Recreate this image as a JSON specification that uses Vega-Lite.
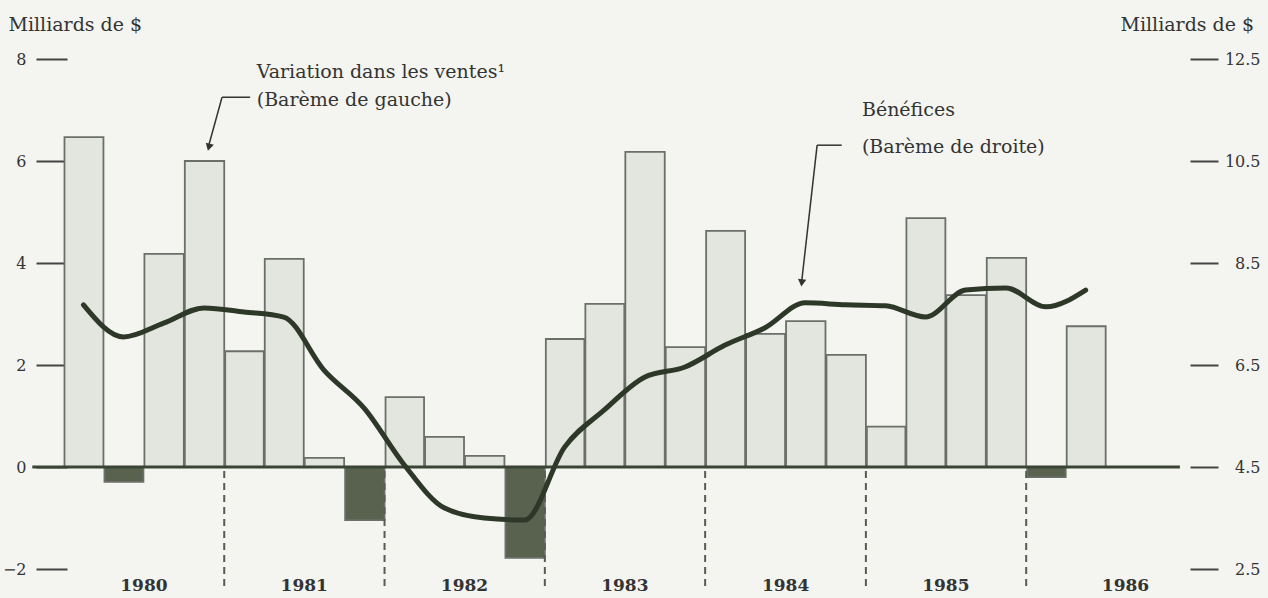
{
  "$schema": "https://vega.github.io/schema/vega-lite/v6.json",
  "width": 1123,
  "height": 510,
  "autosize": "none",
  "padding": {"left": 67, "top": 59, "right": 78, "bottom": 29},
  "background": "#f4f5f1",
  "config": {"view": {"stroke": null}, "font": "DejaVu Serif"},
  "datasets": {
    "q": [
      {"date": "1980-01-01", "ventes": 6.47, "benefices": 7.68},
      {"date": "1980-04-01", "ventes": -0.29, "benefices": 7.05},
      {"date": "1980-07-01", "ventes": 4.18, "benefices": 7.32},
      {"date": "1980-10-01", "ventes": 6.0, "benefices": 7.62},
      {"date": "1981-01-01", "ventes": 2.27, "benefices": 7.54},
      {"date": "1981-04-01", "ventes": 4.08, "benefices": 7.44},
      {"date": "1981-07-01", "ventes": 0.18, "benefices": 6.4},
      {"date": "1981-10-01", "ventes": -1.04, "benefices": 5.65},
      {"date": "1982-01-01", "ventes": 1.37, "benefices": 4.54},
      {"date": "1982-04-01", "ventes": 0.59, "benefices": 3.7},
      {"date": "1982-07-01", "ventes": 0.22, "benefices": 3.5},
      {"date": "1982-10-01", "ventes": -1.78, "benefices": 3.46},
      {"date": "1983-01-01", "ventes": 2.51, "benefices": 4.89},
      {"date": "1983-04-01", "ventes": 3.2, "benefices": 5.62},
      {"date": "1983-07-01", "ventes": 6.18, "benefices": 6.26},
      {"date": "1983-10-01", "ventes": 2.35, "benefices": 6.46},
      {"date": "1984-01-01", "ventes": 4.63, "benefices": 6.89},
      {"date": "1984-04-01", "ventes": 2.61, "benefices": 7.23},
      {"date": "1984-07-01", "ventes": 2.86, "benefices": 7.72},
      {"date": "1984-10-01", "ventes": 2.2, "benefices": 7.68},
      {"date": "1985-01-01", "ventes": 0.79, "benefices": 7.66},
      {"date": "1985-04-01", "ventes": 4.88, "benefices": 7.44},
      {"date": "1985-07-01", "ventes": 3.37, "benefices": 7.97},
      {"date": "1985-10-01", "ventes": 4.1, "benefices": 8.01},
      {"date": "1986-01-01", "ventes": -0.2, "benefices": 7.64},
      {"date": "1986-04-01", "ventes": 2.76, "benefices": 7.97}
    ],
    "div": [
      {"date": "1981-01-01"},
      {"date": "1982-01-01"},
      {"date": "1983-01-01"},
      {"date": "1984-01-01"},
      {"date": "1985-01-01"},
      {"date": "1986-01-01"}
    ],
    "one": [{"k": 1}]
  },
  "layer": [
    {
      "layer": [
        {
          "data": {"name": "q"},
          "mark": {"type": "bar", "stroke": "#6b6f69", "strokeWidth": 1.8},
          "encoding": {
            "x": {
              "field": "date",
              "timeUnit": "utcyearquarter",
              "type": "temporal",
              "scale": {
                "type": "utc",
                "domain": [
                  {"year": 1980, "month": 1, "date": 9, "utc": true},
                  {"year": 1987, "month": 1, "date": 9, "utc": true}
                ]
              },
              "axis": {
                "values": [
                  {"year": 1980, "month": 7, "date": 1, "utc": true},
                  {"year": 1981, "month": 7, "date": 1, "utc": true},
                  {"year": 1982, "month": 7, "date": 1, "utc": true},
                  {"year": 1983, "month": 7, "date": 1, "utc": true},
                  {"year": 1984, "month": 7, "date": 1, "utc": true},
                  {"year": 1985, "month": 7, "date": 1, "utc": true},
                  {"year": 1986, "month": 8, "date": 14, "utc": true}
                ],
                "format": "%Y",
                "ticks": false,
                "domain": false,
                "grid": false,
                "title": null,
                "labelFont": "DejaVu Serif",
                "labelFontWeight": "bold",
                "labelFontSize": 17,
                "labelColor": "#333333",
                "labelPadding": 8,
                "labelOverlap": false,
                "labelFlush": false
              }
            },
            "y": {
              "field": "ventes",
              "type": "quantitative",
              "scale": {"domain": [-2, 8], "nice": false},
              "axis": {
                "orient": "left",
                "values": [-2, 0, 2, 4, 6, 8],
                "format": "d",
                "title": "Milliards de $",
                "titleAngle": 0,
                "titleAlign": "left",
                "titleBaseline": "middle",
                "titleX": -59,
                "titleY": -35,
                "titleFont": "DejaVu Serif",
                "titleFontSize": 19,
                "titleFontWeight": "normal",
                "titleColor": "#333333",
                "domain": false,
                "grid": false,
                "tickSize": 31,
                "tickWidth": 2,
                "tickColor": "#444444",
                "labelPadding": 10,
                "labelFont": "DejaVu Serif",
                "labelFontSize": 16,
                "labelColor": "#333333"
              }
            },
            "fill": {
              "condition": {"test": "datum.ventes < 0", "value": "#58624f"},
              "value": "#e3e6df"
            }
          }
        },
        {
          "data": {"name": "one"},
          "mark": {"type": "rule", "color": "#3a4434", "strokeWidth": 3},
          "encoding": {
            "x": {"datum": {"year": 1979, "month": 10, "date": 22, "utc": true}, "type": "temporal"},
            "x2": {"datum": {"year": 1986, "month": 12, "date": 17, "utc": true}},
            "y": {"datum": 0, "type": "quantitative"}
          }
        },
        {
          "data": {"name": "div"},
          "mark": {"type": "rule", "color": "#555c51", "strokeWidth": 2, "strokeDash": [7, 5]},
          "encoding": {
            "x": {"field": "date", "type": "temporal"},
            "y": {"datum": -0.08, "type": "quantitative"},
            "y2": {"datum": -2.4}
          }
        },
        {
          "data": {"name": "one"},
          "mark": {"type": "text", "text": "Variation dans les ventes¹", "align": "left", "baseline": "middle", "fontSize": 19, "color": "#333333", "font": "DejaVu Serif"},
          "encoding": {
            "x": {"datum": {"year": 1981, "month": 3, "date": 16, "utc": true}, "type": "temporal"},
            "y": {"datum": 7.75, "type": "quantitative"}
          }
        },
        {
          "data": {"name": "one"},
          "mark": {"type": "text", "text": "(Barème de gauche)", "align": "left", "baseline": "middle", "fontSize": 19, "color": "#333333", "font": "DejaVu Serif"},
          "encoding": {
            "x": {"datum": {"year": 1981, "month": 3, "date": 16, "utc": true}, "type": "temporal"},
            "y": {"datum": 7.2, "type": "quantitative"}
          }
        },
        {
          "data": {"name": "one"},
          "mark": {"type": "text", "text": "Bénéfices", "align": "left", "baseline": "middle", "fontSize": 19, "color": "#333333", "font": "DejaVu Serif"},
          "encoding": {
            "x": {"datum": {"year": 1984, "month": 12, "date": 23, "utc": true}, "type": "temporal"},
            "y": {"datum": 7.0, "type": "quantitative"}
          }
        },
        {
          "data": {"name": "one"},
          "mark": {"type": "text", "text": "(Barème de droite)", "align": "left", "baseline": "middle", "fontSize": 19, "color": "#333333", "font": "DejaVu Serif"},
          "encoding": {
            "x": {"datum": {"year": 1984, "month": 12, "date": 23, "utc": true}, "type": "temporal"},
            "y": {"datum": 6.27, "type": "quantitative"}
          }
        },
        {
          "data": {"name": "one"},
          "mark": {"type": "rule", "color": "#333333", "strokeWidth": 1.5},
          "encoding": {
            "x": {"datum": {"year": 1980, "month": 12, "date": 27, "utc": true}, "type": "temporal"},
            "x2": {"datum": {"year": 1981, "month": 3, "date": 1, "utc": true}},
            "y": {"datum": 7.25, "type": "quantitative"},
            "y2": {"datum": 7.25}
          }
        },
        {
          "data": {"name": "one"},
          "mark": {"type": "rule", "color": "#333333", "strokeWidth": 1.5},
          "encoding": {
            "x": {"datum": {"year": 1980, "month": 12, "date": 27, "utc": true}, "type": "temporal"},
            "x2": {"datum": {"year": 1980, "month": 11, "date": 25, "utc": true}},
            "y": {"datum": 7.25, "type": "quantitative"},
            "y2": {"datum": 6.25}
          }
        },
        {
          "data": {"name": "one"},
          "mark": {"type": "point", "shape": "triangle-down", "filled": true, "size": 70, "angle": 15, "color": "#333333", "opacity": 1},
          "encoding": {
            "x": {"datum": {"year": 1980, "month": 11, "date": 27, "utc": true}, "type": "temporal"},
            "y": {"datum": 6.27, "type": "quantitative"}
          }
        },
        {
          "data": {"name": "one"},
          "mark": {"type": "rule", "color": "#333333", "strokeWidth": 1.5},
          "encoding": {
            "x": {"datum": {"year": 1984, "month": 9, "date": 12, "utc": true}, "type": "temporal"},
            "x2": {"datum": {"year": 1984, "month": 11, "date": 7, "utc": true}},
            "y": {"datum": 6.31, "type": "quantitative"},
            "y2": {"datum": 6.31}
          }
        },
        {
          "data": {"name": "one"},
          "mark": {"type": "rule", "color": "#333333", "strokeWidth": 1.5},
          "encoding": {
            "x": {"datum": {"year": 1984, "month": 9, "date": 12, "utc": true}, "type": "temporal"},
            "x2": {"datum": {"year": 1984, "month": 8, "date": 8, "utc": true}},
            "y": {"datum": 6.31, "type": "quantitative"},
            "y2": {"datum": 3.65}
          }
        },
        {
          "data": {"name": "one"},
          "mark": {"type": "point", "shape": "triangle-down", "filled": true, "size": 70, "angle": 6, "color": "#333333", "opacity": 1},
          "encoding": {
            "x": {"datum": {"year": 1984, "month": 8, "date": 8, "utc": true}, "type": "temporal"},
            "y": {"datum": 3.61, "type": "quantitative"}
          }
        }
      ]
    },
    {
      "data": {"name": "q"},
      "mark": {"type": "line", "strokeWidth": 5, "color": "#2e3829", "strokeJoin": "round", "strokeCap": "round", "interpolate": "monotone"},
      "encoding": {
        "x": {"field": "date", "timeUnit": "utcyearquarter", "type": "temporal", "bandPosition": 0.5},
        "y": {
          "field": "benefices",
          "type": "quantitative",
          "scale": {"domain": [2.5, 12.5], "nice": false, "zero": false},
          "axis": {
            "orient": "right",
            "values": [2.5, 4.5, 6.5, 8.5, 10.5, 12.5],
            "format": ".1f",
            "title": "Milliards de $",
            "titleAngle": 0,
            "titleAlign": "left",
            "titleBaseline": "middle",
            "titleX": -70,
            "titleY": -35,
            "titleFont": "DejaVu Serif",
            "titleFontSize": 19,
            "titleFontWeight": "normal",
            "titleColor": "#333333",
            "domain": false,
            "grid": false,
            "tickSize": 28,
            "tickWidth": 2,
            "tickColor": "#444444",
            "labelPadding": 42,
            "labelAlign": "right",
            "labelFont": "DejaVu Serif",
            "labelFontSize": 16,
            "labelColor": "#333333"
          }
        }
      }
    }
  ],
  "resolve": {"scale": {"y": "independent"}}
}
